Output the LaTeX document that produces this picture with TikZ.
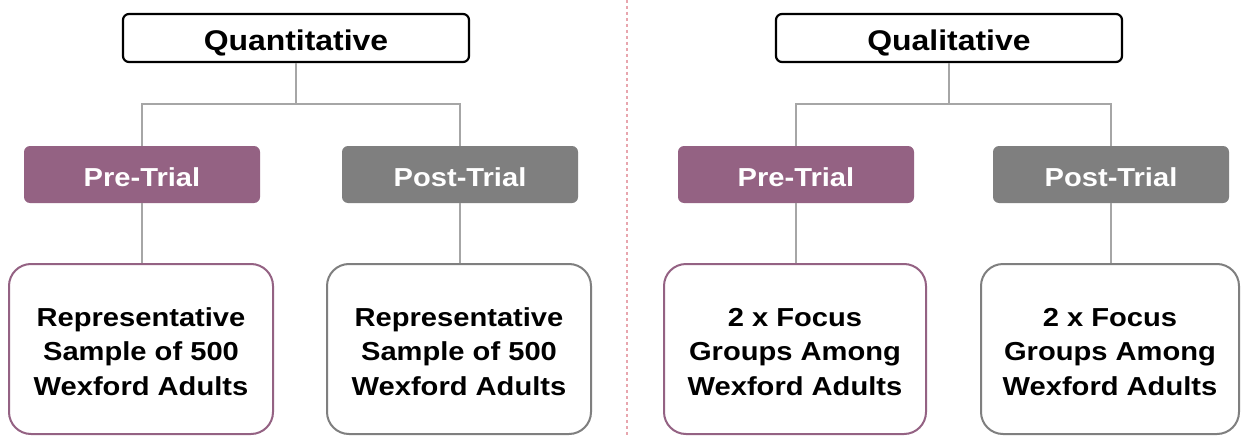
\documentclass[tikz,border=0pt]{standalone}
\usepackage{fontspec}
\newfontfamily\lab[FakeStretch=1.12]{Liberation Sans}
\definecolor{purp}{HTML}{946283}
\definecolor{grayb}{HTML}{7F7F7F}
\definecolor{conn}{HTML}{A6A6A6}
\definecolor{divc}{HTML}{E8A6AE}
\newcommand{\lowtext}[3]{\raisebox{-5pt}[\height][\depth]{\begin{tabular}{@{}c@{}}#1\\#2\\#3\end{tabular}}}
\begin{document}
\begin{tikzpicture}[x=1pt,y=-1pt,
  head/.style={draw=black,line width=2.2pt,rounded corners=6pt,fill=white,minimum width=346pt,minimum height=48pt,inner sep=0pt,text height=25pt,text depth=0pt,font=\lab\bfseries\fontsize{28.5}{32}\selectfont},
  mid/.style={rounded corners=6pt,minimum width=236pt,minimum height=57pt,inner sep=0pt,text height=24pt,text depth=0pt,text=white,font=\lab\bfseries\fontsize{26}{30}\selectfont},
  midp/.style={mid,fill=purp},
  midg/.style={mid,fill=grayb},
  low/.style={line width=2pt,rounded corners=22pt,fill=white,minimum width=262pt,minimum height=170pt,inner sep=0pt,font=\lab\bfseries\fontsize{26}{34.5}\selectfont},
  lowp/.style={low,draw=purp},
  lowg/.style={low,draw=grayb},
  cl/.style={draw=conn,line width=1.4pt}]
\useasboundingbox (0,0) rectangle (1242,436);
\fill[white] (0,0) rectangle (1242,436);
% divider
\coordinate (dt) at (627,0);
\coordinate (db) at (627,436);
\draw[divc,line width=2pt,dash pattern=on 3pt off 3pt] (dt) -- (db);
% left
\node[head] (q1) at (296,38) {Quantitative};
\node[midp] (p1) at (142,174.5) {Pre-Trial};
\node[midg] (s1) at (460,174.5) {Post-Trial};
\node[lowp,minimum width=264pt] (b1) at (141,349) {\lowtext{Representative}{Sample of 500}{Wexford Adults}};
\node[lowg,minimum width=264pt] (c1) at (459,349) {\lowtext{Representative}{Sample of 500}{Wexford Adults}};
\coordinate (j1) at (296,104);
\draw[cl] (q1.south) -- (j1);
\draw[cl] (p1.north) |- (j1) -| (s1.north);
\draw[cl] (p1.south) -- (p1.south |- b1.north);
\draw[cl] (s1.south) -- (s1.south |- c1.north);
% right
\node[head] (q2) at (949,38) {Qualitative};
\node[midp] (p2) at (796,174.5) {Pre-Trial};
\node[midg] (s2) at (1111,174.5) {Post-Trial};
\node[lowp] (b2) at (795,349) {\lowtext{2 x Focus}{Groups Among}{Wexford Adults}};
\node[lowg,minimum width=258pt] (c2) at (1110,349) {\lowtext{2 x Focus}{Groups Among}{Wexford Adults}};
\coordinate (j2) at (949,104);
\draw[cl] (q2.south) -- (j2);
\draw[cl] (p2.north) |- (j2) -| (s2.north);
\draw[cl] (p2.south) -- (p2.south |- b2.north);
\draw[cl] (s2.south) -- (s2.south |- c2.north);
\end{tikzpicture}
\end{document}
